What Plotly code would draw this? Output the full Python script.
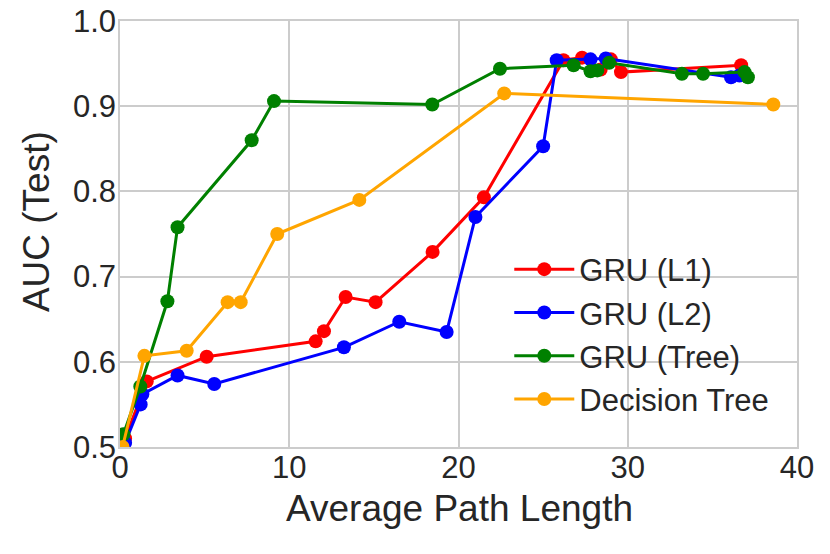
import plotly.graph_objects as go

# GRU (L1)
l1_x = [0.3, 1.58, 5.12, 11.56, 12.05, 13.33, 15.1, 18.47, 21.5, 26.2, 27.3, 28.4, 29.0, 29.6, 36.7, 36.9]
l1_y = [0.51, 0.577, 0.606, 0.624, 0.636, 0.676, 0.670, 0.729, 0.793, 0.954, 0.957, 0.943, 0.955, 0.940, 0.948, 0.937]

# GRU (L2)
l2_x = [0.3, 1.22, 1.32, 3.4, 5.57, 13.23, 16.5, 19.3, 21.0, 25.0, 25.8, 27.8, 28.7, 36.1, 36.6]
l2_y = [0.505, 0.550, 0.562, 0.584, 0.574, 0.617, 0.647, 0.635, 0.770, 0.853, 0.954, 0.955, 0.956, 0.934, 0.936]

# GRU (Tree)
tree_x = [0.2, 1.2, 2.8, 3.4, 7.78, 9.1, 18.45, 22.45, 26.8, 27.8, 28.2, 28.9, 33.2, 34.45, 36.9, 37.1]
tree_y = [0.515, 0.571, 0.671, 0.758, 0.860, 0.906, 0.902, 0.944, 0.948, 0.941, 0.942, 0.951, 0.938, 0.938, 0.940, 0.934]

# Decision Tree
dt_x = [0.15, 1.44, 3.94, 6.36, 7.13, 9.29, 14.14, 22.7, 38.6]
dt_y = [0.50, 0.607, 0.613, 0.670, 0.670, 0.750, 0.790, 0.915, 0.902]

series = [
    ("GRU (L1)", l1_x, l1_y, "#ff0000"),
    ("GRU (L2)", l2_x, l2_y, "#0000ff"),
    ("GRU (Tree)", tree_x, tree_y, "#008000"),
    ("Decision Tree", dt_x, dt_y, "#ffa500"),
]

FONT = "Arial, Liberation Sans, sans-serif"
INK = "#262626"

fig = go.Figure()
for name, xs, ys, col in series:
    fig.add_trace(go.Scatter(
        x=xs, y=ys, name=name, mode="lines+markers",
        line=dict(color=col, width=3),
        marker=dict(color=col, size=14),
    ))

# page body adds an 8px margin, so the figure is drawn 8px smaller
fig.update_layout(
    width=822, height=546,
    margin=dict(l=112, r=33, t=13, b=107),
    paper_bgcolor="white",
    plot_bgcolor="white",
    font=dict(family=FONT, size=31, color=INK),
    legend=dict(
        x=0.575, y=0.48, xanchor="left", yanchor="top",
        bgcolor="rgba(0,0,0,0)", font=dict(size=31, color=INK),
        tracegroupgap=0, itemwidth=60,
    ),
    annotations=[
        dict(text="Average Path Length", xref="paper", yref="paper",
             x=0.501, y=-0.1455, xanchor="center", yanchor="middle",
             showarrow=False, font=dict(size=37, color=INK)),
        dict(text="AUC (Test)", xref="paper", yref="paper",
             x=-0.124, y=0.528, xanchor="center", yanchor="middle",
             textangle=-90, showarrow=False, font=dict(size=37, color=INK)),
    ],
)

fig.update_xaxes(
    range=[0, 40], tickvals=[0, 10, 20, 30, 40], automargin=False,
    showgrid=True, gridcolor="#cccccc", gridwidth=1.5,
    zeroline=False, showline=True, linecolor="#cccccc", linewidth=1.5, mirror=True,
    ticks="", tickfont=dict(size=31), ticklabelstandoff=-8,
    ticklabeloverflow="allow",
)
fig.update_yaxes(
    range=[0.5, 1.0], tickvals=[0.5, 0.6, 0.7, 0.8, 0.9, 1.0], tickformat=".1f",
    automargin=False,
    showgrid=True, gridcolor="#cccccc", gridwidth=1.5,
    zeroline=False, showline=True, linecolor="#cccccc", linewidth=1.5, mirror=True,
    ticks="", tickfont=dict(size=31), ticklabelstandoff=-4,
    ticklabeloverflow="allow",
)

fig.write_html("out.html")
